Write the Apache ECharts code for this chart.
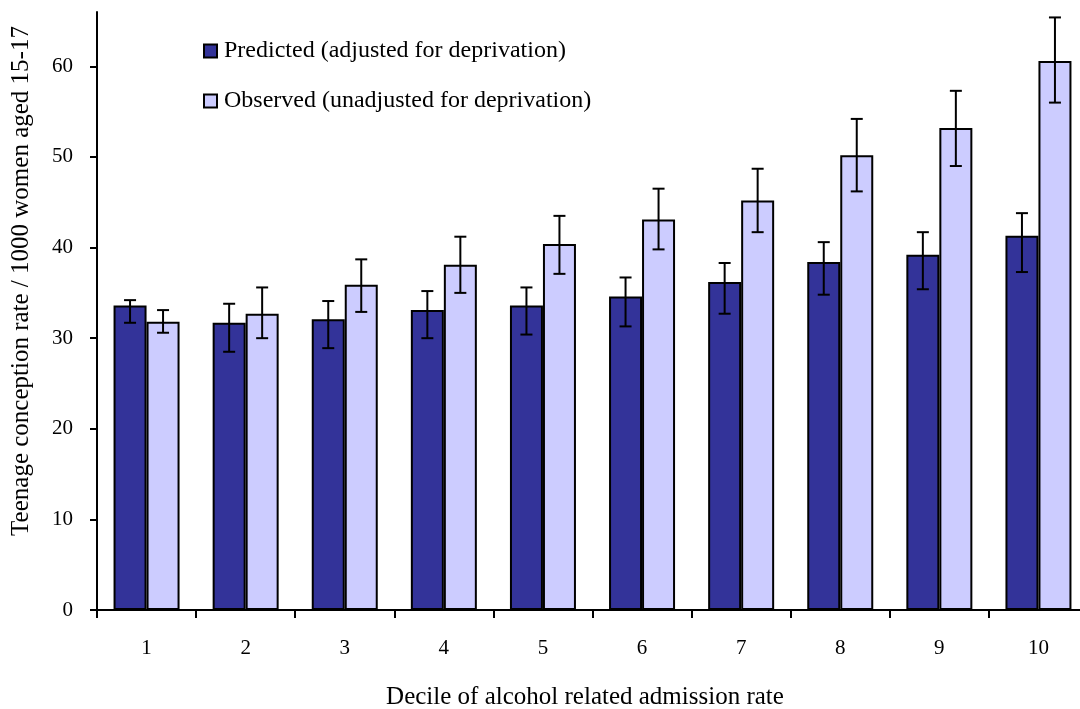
<!DOCTYPE html>
<html>
<head>
<meta charset="utf-8">
<script src="https://cdn.jsdelivr.net/npm/echarts@6/dist/echarts.min.js"></script>
<style>
html,body{margin:0;padding:0;background:#fff;}
#chart{width:1080px;height:709px;}
</style>
</head>
<body>
<div id="chart"></div>
<script>
var categories = ['1','2','3','4','5','6','7','8','9','10'];
var predicted = [33.6, 31.7, 32.1, 33.1, 33.6, 34.6, 36.2, 38.4, 39.2, 41.3];
var predictedLow = [31.7, 28.5, 28.9, 30.0, 30.4, 31.3, 32.7, 34.8, 35.4, 37.3];
var predictedHigh = [34.2, 33.8, 34.1, 35.2, 35.6, 36.7, 38.3, 40.6, 41.7, 43.8];
var observed = [31.8, 32.7, 35.9, 38.1, 40.4, 43.1, 45.2, 50.2, 53.2, 60.6];
var observedLow = [30.6, 30.0, 32.9, 35.0, 37.1, 39.8, 41.7, 46.2, 49.0, 56.0];
var observedHigh = [33.1, 35.6, 38.7, 41.2, 43.5, 46.5, 48.7, 54.2, 57.3, 65.4];
var yTicks = [0, 10, 20, 30, 40, 50, 60];
var seriesNames = ['Predicted (adjusted for deprivation)', 'Observed (unadjusted for deprivation)'];
var xTitle = 'Decile of alcohol related admission rate';
var yTitle = 'Teenage conception rate / 1000 women aged 15-17';

var FONT = '"Liberation Serif", "Times New Roman", serif';
var BAR_W = 33;

function errData(low, high) {
  return categories.map(function (c, i) { return [i, low[i], high[i]]; });
}
function errRenderer(offsetSign) {
  return function (params, api) {
    var idx = api.value(0);
    var lo = api.coord([idx, api.value(1)]);
    var hi = api.coord([idx, api.value(2)]);
    var x = lo[0] + offsetSign * BAR_W / 2;
    var cap = 6;
    var st = { stroke: '#000', lineWidth: 2 };
    return {
      type: 'group',
      children: [
        { type: 'line', shape: { x1: x, y1: hi[1], x2: x, y2: lo[1] }, style: st },
        { type: 'line', shape: { x1: x - cap, y1: hi[1], x2: x + cap, y2: hi[1] }, style: st },
        { type: 'line', shape: { x1: x - cap, y1: lo[1], x2: x + cap, y2: lo[1] }, style: st }
      ]
    };
  };
}

var chart = echarts.init(document.getElementById('chart'), null, { renderer: 'canvas' });
chart.setOption({
  animation: false,
  backgroundColor: '#fff',
  grid: { left: 97, width: 991, top: 12, bottom: 99, containLabel: false, outerBoundsMode: 'none' },
  legend: {
    data: seriesNames,
    orient: 'vertical',
    left: 198,
    top: 34,
    itemWidth: 13,
    itemHeight: 13,
    itemGap: 26,
    icon: 'rect',
    textStyle: { fontFamily: FONT, fontSize: 24, color: '#000', padding: [0, 0, 0, 2] },
    selectedMode: false
  },
  xAxis: {
    type: 'category',
    data: categories,
    axisLine: { lineStyle: { color: '#000', width: 2 } },
    axisTick: { show: true, length: 8, lineStyle: { color: '#000', width: 2 } },
    axisLabel: { color: '#000', fontFamily: FONT, fontSize: 21, margin: 28 },
    splitLine: { show: false }
  },
  yAxis: {
    type: 'value',
    min: 0,
    max: 66,
    interval: 10,
    axisLine: { show: true, lineStyle: { color: '#000', width: 2 } },
    axisTick: { show: true, length: 7, lineStyle: { color: '#000', width: 2 }, customValues: yTicks },
    axisLabel: { color: '#000', fontFamily: FONT, fontSize: 21, margin: 24, customValues: yTicks },
    splitLine: { show: false }
  },
  graphic: [
    {
      type: 'text', x: 21, y: 281, rotation: Math.PI / 2,
      style: { text: yTitle, font: '25px ' + FONT, fill: '#000', textAlign: 'center', textVerticalAlign: 'middle' }
    },
    {
      type: 'text', x: 585, y: 697,
      style: { text: xTitle, font: '25px ' + FONT, fill: '#000', textAlign: 'center', textVerticalAlign: 'middle' }
    }
  ],
  series: [
    {
      name: seriesNames[0], type: 'bar', data: predicted, barWidth: BAR_W, barGap: '0%',
      itemStyle: { color: '#333399', borderColor: '#000', borderWidth: 2 }
    },
    {
      name: seriesNames[1], type: 'bar', data: observed, barWidth: BAR_W, barGap: '0%',
      itemStyle: { color: '#CCCCFF', borderColor: '#000', borderWidth: 2 }
    },
    {
      type: 'custom', data: errData(predictedLow, predictedHigh), renderItem: errRenderer(-1),
      encode: { x: 0, y: [1, 2] }, z: 10, silent: true
    },
    {
      type: 'custom', data: errData(observedLow, observedHigh), renderItem: errRenderer(1),
      encode: { x: 0, y: [1, 2] }, z: 10, silent: true
    }
  ]
});
</script>
</body>
</html>
